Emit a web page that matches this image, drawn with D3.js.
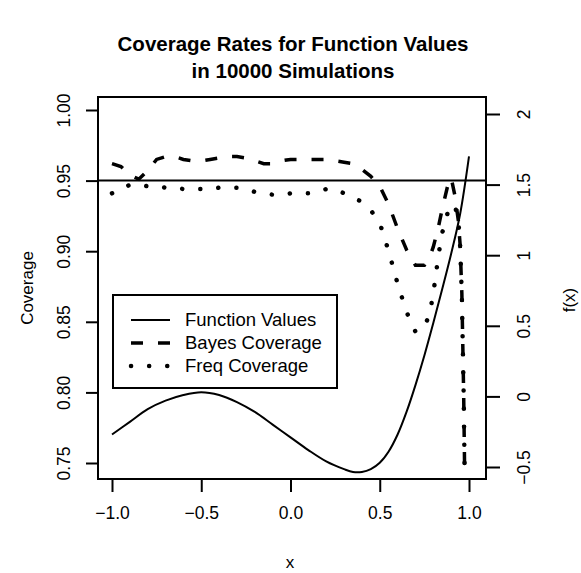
<!DOCTYPE html>
<html>
<head>
<meta charset="utf-8">
<script src="https://cdn.jsdelivr.net/npm/d3@7"></script>
<style>
  body { margin: 0; background: #fff; }
  svg { font-family: "Liberation Sans", Arial, sans-serif; }
</style>
</head>
<body>
<svg id="chart" width="581" height="573"></svg>
<script>
// x positions shared by the two coverage curves
var xCov = [-1, -0.95, -0.9, -0.85, -0.8, -0.75, -0.7, -0.65, -0.6, -0.55, -0.5, -0.45, -0.4, -0.35, -0.3, -0.25,
    -0.2, -0.15, -0.1, -0.05, 0, 0.05, 0.1, 0.15, 0.2, 0.25, 0.3, 0.35, 0.4, 0.45, 0.5, 0.55, 0.6, 0.65, 0.7, 0.75,
    0.78, 0.8, 0.83, 0.85, 0.88, 0.9, 0.92, 0.94, 0.95, 0.96, 0.97, 0.98]
var bayesCov = [0.962, 0.960, 0.954, 0.951, 0.957, 0.965, 0.967, 0.967, 0.965, 0.964, 0.964, 0.965, 0.966, 0.967, 0.967, 0.966,
    0.964, 0.962, 0.962, 0.964, 0.965, 0.965, 0.965, 0.965, 0.965, 0.964, 0.963, 0.962, 0.958, 0.953, 0.946, 0.933, 0.916, 0.901, 0.890, 0.890,
    0.896, 0.903, 0.918, 0.930, 0.946, 0.952, 0.940, 0.922, 0.905, 0.870, 0.800, 0.700]
var freqCov = [0.941, 0.944, 0.947, 0.947, 0.946, 0.946, 0.945, 0.945, 0.944, 0.944, 0.944, 0.944, 0.945, 0.945, 0.945, 0.944,
    0.942, 0.941, 0.940, 0.940, 0.941, 0.941, 0.941, 0.942, 0.944, 0.944, 0.941, 0.938, 0.935, 0.929, 0.920, 0.900, 0.877, 0.857, 0.843, 0.846,
    0.856, 0.870, 0.898, 0.913, 0.927, 0.932, 0.933, 0.922, 0.905, 0.868, 0.800, 0.700]

// function values, read on the right axis
var xFun = [-1, -0.9, -0.8, -0.7, -0.6, -0.5, -0.4, -0.3, -0.2, -0.1, 0, 0.1, 0.2, 0.3, 0.35, 0.4, 0.45, 0.5, 0.55, 0.6, 0.65, 0.7, 0.75, 0.8, 0.85, 0.9, 0.95, 1.0]
var fVals = [-0.27, -0.18, -0.09, -0.03, 0.01, 0.03, 0.01, -0.04, -0.11, -0.20, -0.29, -0.38, -0.46, -0.515, -0.535, -0.535, -0.515, -0.47, -0.39, -0.27, -0.11, 0.08, 0.29, 0.52, 0.76, 1.01, 1.29, 1.7]

var xTicks = [-1.0, -0.5, 0.0, 0.5, 1.0]
var covTicks = [0.75, 0.80, 0.85, 0.90, 0.95, 1.00]
var fTicks = [-0.5, 0, 0.5, 1, 1.5, 2]
var refLine = 0.95

var legendNames = ["Function Values", "Bayes Coverage", "Freq Coverage"]

// plot box
var box = {left: 98, right: 486, top: 97, bottom: 479}

var svg = d3.select("#chart")

var x = d3.scaleLinear().domain([-1, 1]).range([112, 469])
var yL = d3.scaleLinear().domain([0.75, 1.00]).range([463, 110])
var yR = d3.scaleLinear().domain([-0.5, 2]).range([467, 114])

svg.append("clipPath").attr("id", "plotclip")
    .append("rect")
    .attr("x", box.left).attr("y", box.top)
    .attr("width", box.right - box.left).attr("height", box.bottom - box.top)

// title
var title = svg.append("text")
    .attr("text-anchor", "middle")
    .style("font-weight", "bold")
    .style("font-size", "20.5px")
title.append("tspan").attr("x", 293).attr("y", 51).text("Coverage Rates for Function Values")
title.append("tspan").attr("x", 293).attr("y", 78).text("in 10000 Simulations")

// axes
var bottomAxis = d3.axisBottom(x).tickValues(xTicks).tickFormat(d3.format(".1f")).tickSize(13).tickPadding(15)
svg.append("g").attr("class", "axis").attr("transform", "translate(0," + box.bottom + ")").call(bottomAxis)

var leftAxis = d3.axisLeft(yL).tickValues(covTicks).tickFormat(d3.format(".2f")).tickSize(12)
var gl = svg.append("g").attr("class", "axis").attr("transform", "translate(" + box.left + ",0)").call(leftAxis)
gl.selectAll(".tick text")
    .attr("x", null).attr("dy", null)
    .attr("text-anchor", "middle")
    .attr("transform", "translate(-34,0) rotate(-90)")
    .attr("dy", "0.35em")

var rightAxis = d3.axisRight(yR).tickValues(fTicks).tickFormat(d3.format("")).tickSize(14)
var gr = svg.append("g").attr("class", "axis").attr("transform", "translate(" + box.right + ",0)").call(rightAxis)
gr.selectAll(".tick text")
    .attr("x", null).attr("dy", null)
    .attr("text-anchor", "middle")
    .attr("transform", "translate(38,0) rotate(-90)")
    .attr("dy", "0.35em")

svg.selectAll(".axis .domain").remove()
svg.selectAll(".axis .tick line").attr("stroke", "#000").attr("stroke-width", 2)
svg.selectAll(".axis .tick text")
    .attr("fill", "#000")
    .style("font-size", "17.5px")
    .style("font-family", "Liberation Sans, Arial, sans-serif")

// axis titles
svg.append("text").attr("x", 290).attr("y", 568).attr("text-anchor", "middle")
    .style("font-size", "17px").text("x")
svg.append("text").attr("transform", "translate(27,288) rotate(-90)").attr("text-anchor", "middle")
    .attr("dy", "0.35em").style("font-size", "17px").text("Coverage")
svg.append("text").attr("transform", "translate(569,300) rotate(-90)").attr("text-anchor", "middle")
    .attr("dy", "0.35em").style("font-size", "17px").text("f(x)")

// lines
var plot = svg.append("g").attr("clip-path", "url(#plotclip)")

var covLine = function(vals) {
    return d3.line()
        .x(function(d, i) { return x(xCov[i]) })
        .y(function(d) { return yL(d) })(vals)
}

plot.append("line")
    .attr("x1", box.left).attr("x2", box.right)
    .attr("y1", yL(refLine)).attr("y2", yL(refLine))
    .attr("stroke", "#000").attr("stroke-width", 2)

plot.append("path")
    .attr("d", d3.line()
        .x(function(d, i) { return x(xFun[i]) })
        .y(function(d) { return yR(d) })
        .curve(d3.curveCatmullRom)(fVals))
    .attr("fill", "none").attr("stroke", "#000").attr("stroke-width", 2)

plot.append("path")
    .attr("d", covLine(bayesCov))
    .attr("fill", "none").attr("stroke", "#000").attr("stroke-width", 3.5)
    .attr("stroke-dasharray", "12,15")

plot.append("path")
    .attr("d", covLine(freqCov))
    .attr("fill", "none").attr("stroke", "#000").attr("stroke-width", 4.5)
    .attr("stroke-linecap", "round")
    .attr("stroke-dasharray", "0.1,18")

// frame
svg.append("rect")
    .attr("x", box.left).attr("y", box.top)
    .attr("width", box.right - box.left).attr("height", box.bottom - box.top)
    .attr("fill", "none").attr("stroke", "#000").attr("stroke-width", 2)

// legend
var lg = svg.append("g")
lg.append("rect")
    .attr("x", 113).attr("y", 295).attr("width", 224).attr("height", 93)
    .attr("fill", "#fff").attr("stroke", "#000").attr("stroke-width", 2)

var legendStyles = [
    {w: 2, dash: null, cap: "butt"},
    {w: 3.5, dash: "12,15", cap: "butt"},
    {w: 4.5, dash: "0.1,18", cap: "round"}
]

lg.selectAll("legendlines")
    .data(legendNames)
    .join("line")
    .attr("x1", 131).attr("x2", 170)
    .attr("y1", function(d, i) { return 320 + i * 23 })
    .attr("y2", function(d, i) { return 320 + i * 23 })
    .attr("stroke", "#000")
    .attr("stroke-width", function(d, i) { return legendStyles[i].w })
    .attr("stroke-dasharray", function(d, i) { return legendStyles[i].dash })
    .attr("stroke-linecap", function(d, i) { return legendStyles[i].cap })

lg.selectAll("legendlabels")
    .data(legendNames)
    .join("text")
    .attr("x", 185)
    .attr("y", function(d, i) { return 320 + i * 23 })
    .attr("dy", "0.35em")
    .style("font-size", "18.5px")
    .text(function(d) { return d })
</script>
</body>
</html>
